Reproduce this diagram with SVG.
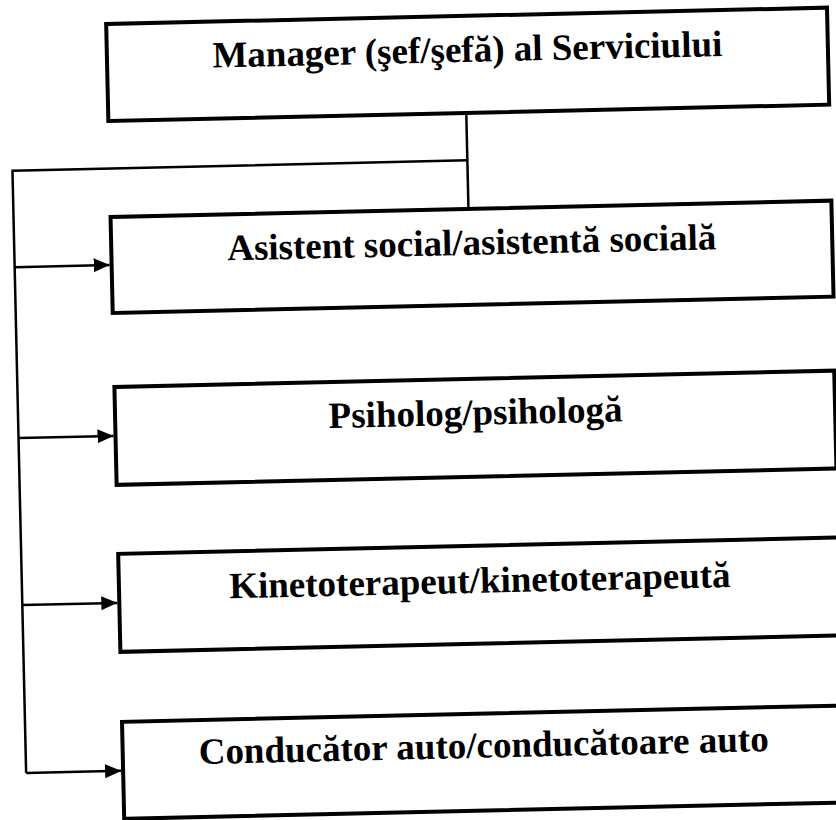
<svg xmlns="http://www.w3.org/2000/svg" width="836" height="820" viewBox="0 0 836 820">
<style>
.box{fill:none;stroke:#000;stroke-width:4}
.lbl{font-family:"Liberation Serif","Times New Roman",serif;font-weight:bold;font-size:37px;fill:#000;text-anchor:middle}
.conn{fill:none;stroke:#000;stroke-width:2.5}
</style>
<defs>
<marker id="arr" markerUnits="userSpaceOnUse" markerWidth="16" markerHeight="16" viewBox="0 0 16 16" refX="16" refY="8" orient="auto">
<path d="M0,1 L16,8 L0,15 Z" fill="#000"/>
</marker>
</defs>
<rect width="836" height="820" fill="#fff"/>
<g transform="rotate(-1.3 420 410)">
<g id="connectors">
<path class="conn" d="M473,114 V210"/>
<path class="conn" d="M473,161.5 H18 V764"/>
<path class="conn" d="M18,258 H113" marker-end="url(#arr)"/>
<path class="conn" d="M18,429 H113" marker-end="url(#arr)"/>
<path class="conn" d="M18,596 H113" marker-end="url(#arr)"/>
<path class="conn" d="M18,764 H113" marker-end="url(#arr)"/>
</g>
<g id="manager">
<rect class="box" x="115" y="17" width="721" height="97"/>
<text class="lbl" x="475.5" y="63">Manager (şef/şefă) al Serviciului</text>
</g>
<g id="asistent">
<rect class="box" x="115" y="210" width="721" height="96"/>
<text class="lbl" x="475.5" y="256">Asistent social/asistentă socială</text>
</g>
<g id="psiholog">
<rect class="box" x="115" y="380" width="720" height="98"/>
<text class="lbl" x="475.5" y="426">Psiholog/psihologă</text>
</g>
<g id="kinetoterapeut">
<rect class="box" x="115" y="547" width="760" height="98"/>
<text class="lbl" x="476" y="594">Kinetoterapeut/kinetoterapeută</text>
</g>
<g id="conducator">
<rect class="box" x="115" y="715" width="760" height="97"/>
<text class="lbl" x="476" y="759">Conducător auto/conducătoare auto</text>
</g>
</g>
</svg>
